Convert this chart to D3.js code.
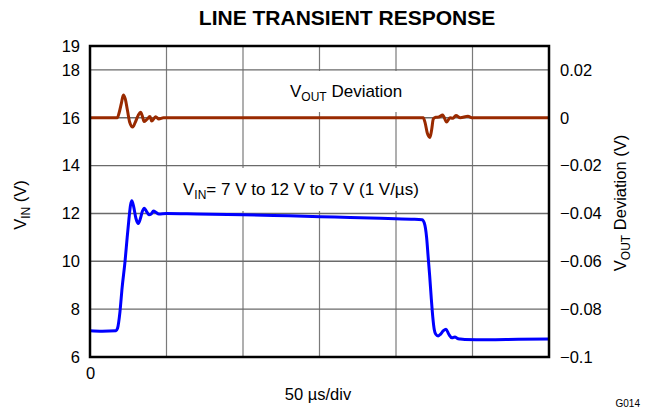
<!DOCTYPE html>
<html>
<head>
<meta charset="utf-8">
<script src="https://cdn.jsdelivr.net/npm/d3@7"></script>
<style>
  body { margin: 0; background: #fff; }
  svg text { font-family: "Liberation Sans", Arial, sans-serif; fill: #000; }
</style>
</head>
<body>
<svg id="canvas" width="645" height="412"></svg>
<script>
// time in µs, VIN in V
const vinTime = [0, 8, 17, 18, 19.6, 21, 22.9, 24.3, 25.5, 26.5, 27.3, 28.5, 30, 31.6, 33, 34.3, 35.5, 37, 38.5, 40, 41.5, 43, 45, 50, 70, 100, 130, 160, 190, 210, 217, 218.5, 220, 221, 222, 223, 224, 225, 226, 227.5, 229, 231, 232.7, 234.5, 236.6, 238.5, 240, 242, 245, 260, 280, 300]
const vinValue = [7.1, 7.08, 7.1, 7.2, 7.9, 8.9, 10.0, 11.0, 11.8, 12.35, 12.53, 12.3, 11.8, 11.58, 11.8, 12.1, 12.22, 12.08, 11.95, 11.98, 12.1, 12.05, 11.98, 12.0, 11.98, 11.95, 11.9, 11.85, 11.8, 11.76, 11.74, 11.6, 11.0, 10.2, 9.4, 8.5, 7.7, 7.15, 6.95, 6.88, 6.95, 7.1, 7.16, 6.95, 6.8, 6.84, 6.78, 6.75, 6.73, 6.72, 6.74, 6.75]
// VOUT deviation in V
const devTime = [0, 17.8, 19, 20.5, 21.8, 23, 24.5, 26, 27.9, 29.5, 31.5, 33.1, 34.3, 35.3, 37, 39.2, 40.3, 42.9, 45, 48, 100, 150, 216, 217.8, 219, 220.5, 222.2, 223.3, 224.4, 226, 228, 230.5, 233.1, 235.3, 237, 239.2, 242, 247, 250, 300]
const devValue = [0, 0, 0.002, 0.006, 0.0095, 0.008, 0.003, -0.002, -0.0039, -0.002, 0.001, 0.0023, 0.0005, -0.0016, -0.0008, 0.0005, -0.0014, 0.0004, -0.0005, 0, 0, 0, 0, 0, -0.002, -0.0065, -0.0082, -0.005, -0.0005, 0.0002, 0.0003, 0.0012, -0.0018, 0, -0.0002, 0.0009, 0, 0.0006, 0, 0]

const leftTicks = [6, 8, 10, 12, 14, 16, 18, 19]
const rightTicks = [0.02, 0, -0.02, -0.04, -0.06, -0.08, -0.1]
const timeGrid = [50, 100, 150, 200, 250]
const vinGrid = [8, 10, 12, 14, 16, 18]

const svg = d3.select("#canvas")
const pLeft = 90, pRight = 549, pTop = 46, pBottom = 357

const x = d3.scaleLinear().domain([0, 300]).range([pLeft, pRight])
const yL = d3.scaleLinear().domain([6, 19]).range([pBottom, pTop])
const yR = d3.scaleLinear().domain([-0.1, 0.03]).range([pBottom, pTop])

// title
svg.append("text")
    .attr("x", 347).attr("y", 25)
    .attr("text-anchor", "middle")
    .style("font-size", "21px").style("font-weight", "bold")
    .text("LINE TRANSIENT RESPONSE")

// grid
svg.append("g").selectAll("line")
    .data(timeGrid).enter().append("line")
    .attr("x1", d => x(d)).attr("x2", d => x(d))
    .attr("y1", pTop).attr("y2", pBottom)
    .attr("stroke", "#7a7a7a").attr("stroke-width", 1.2)
svg.append("g").selectAll("line")
    .data(vinGrid).enter().append("line")
    .attr("x1", pLeft).attr("x2", pRight)
    .attr("y1", d => yL(d)).attr("y2", d => yL(d))
    .attr("stroke", "#6a6a6a").attr("stroke-width", 1.4)

// label boxes
svg.append("rect").attr("x", 273).attr("y", 71).attr("width", 139).attr("height", 41).attr("fill", "#fff")
svg.append("rect").attr("x", 168).attr("y", 168).attr("width", 260).attr("height", 43).attr("fill", "#fff")

const devLabel = svg.append("text").attr("x", 290).attr("y", 97).style("font-size", "17px")
devLabel.append("tspan").text("V")
devLabel.append("tspan").attr("dy", 4).style("font-size", "12px").text("OUT")
devLabel.append("tspan").attr("dy", -4).text(" Deviation")

const vinLabel = svg.append("text").attr("x", 183).attr("y", 195).style("font-size", "17px")
vinLabel.append("tspan").text("V")
vinLabel.append("tspan").attr("dy", 4).style("font-size", "12px").text("IN")
vinLabel.append("tspan").attr("dy", -4).text("= 7 V to 12 V to 7 V (1 V/\u00b5s)")

// traces
const vinLine = d3.line()
    .x((d, i) => x(vinTime[i]))
    .y(d => yL(d))
    .curve(d3.curveMonotoneX)
const devLine = d3.line()
    .x((d, i) => x(devTime[i]))
    .y(d => yR(d))
    .curve(d3.curveMonotoneX)

svg.append("path").datum(devValue)
    .attr("d", devLine)
    .attr("fill", "none").attr("stroke", "#992a00").attr("stroke-width", 3)
svg.append("path").datum(vinValue)
    .attr("d", vinLine)
    .attr("fill", "none").attr("stroke", "#0000ff").attr("stroke-width", 3)

// frame
svg.append("rect")
    .attr("x", pLeft).attr("y", pTop)
    .attr("width", pRight - pLeft).attr("height", pBottom - pTop)
    .attr("fill", "none").attr("stroke", "#000").attr("stroke-width", 2.5)

// axes
const leftAxis = svg.append("g")
    .attr("transform", `translate(${pLeft},0)`)
    .call(d3.axisLeft(yL).tickValues(leftTicks).tickSize(0).tickPadding(10).tickFormat(d3.format("d")))
const rightAxis = svg.append("g")
    .attr("transform", `translate(${pRight},0)`)
    .call(d3.axisRight(yR).tickValues(rightTicks).tickSize(0).tickPadding(11).tickFormat(d3.format("~g")))
const bottomAxis = svg.append("g")
    .attr("transform", `translate(0,${pBottom})`)
    .call(d3.axisBottom(x).tickValues([0]).tickSize(0).tickPadding(10))
;[leftAxis, rightAxis, bottomAxis].forEach(a => {
    a.select(".domain").remove()
    a.selectAll("text").style("font-size", "16.5px").attr("fill", "#000")
        .style("font-family", "'Liberation Sans', Arial, sans-serif")
})

// axis titles
const yTitle = svg.append("text")
    .attr("transform", "translate(26,205) rotate(-90)")
    .attr("text-anchor", "middle").style("font-size", "16.5px")
yTitle.append("tspan").text("V")
yTitle.append("tspan").attr("dy", 4).style("font-size", "12px").text("IN")
yTitle.append("tspan").attr("dy", -4).text(" (V)")

const y2Title = svg.append("text")
    .attr("transform", "translate(626,203) rotate(-90)")
    .attr("text-anchor", "middle").style("font-size", "16.5px")
y2Title.append("tspan").text("V")
y2Title.append("tspan").attr("dy", 4).style("font-size", "12px").text("OUT")
y2Title.append("tspan").attr("dy", -4).text(" Deviation (V)")

svg.append("text")
    .attr("x", 318).attr("y", 400)
    .attr("text-anchor", "middle").style("font-size", "16.5px")
    .text("50 \u00b5s/div")

svg.append("text")
    .attr("x", 640).attr("y", 407)
    .attr("text-anchor", "end").style("font-size", "10px")
    .text("G014")
</script>
</body>
</html>
